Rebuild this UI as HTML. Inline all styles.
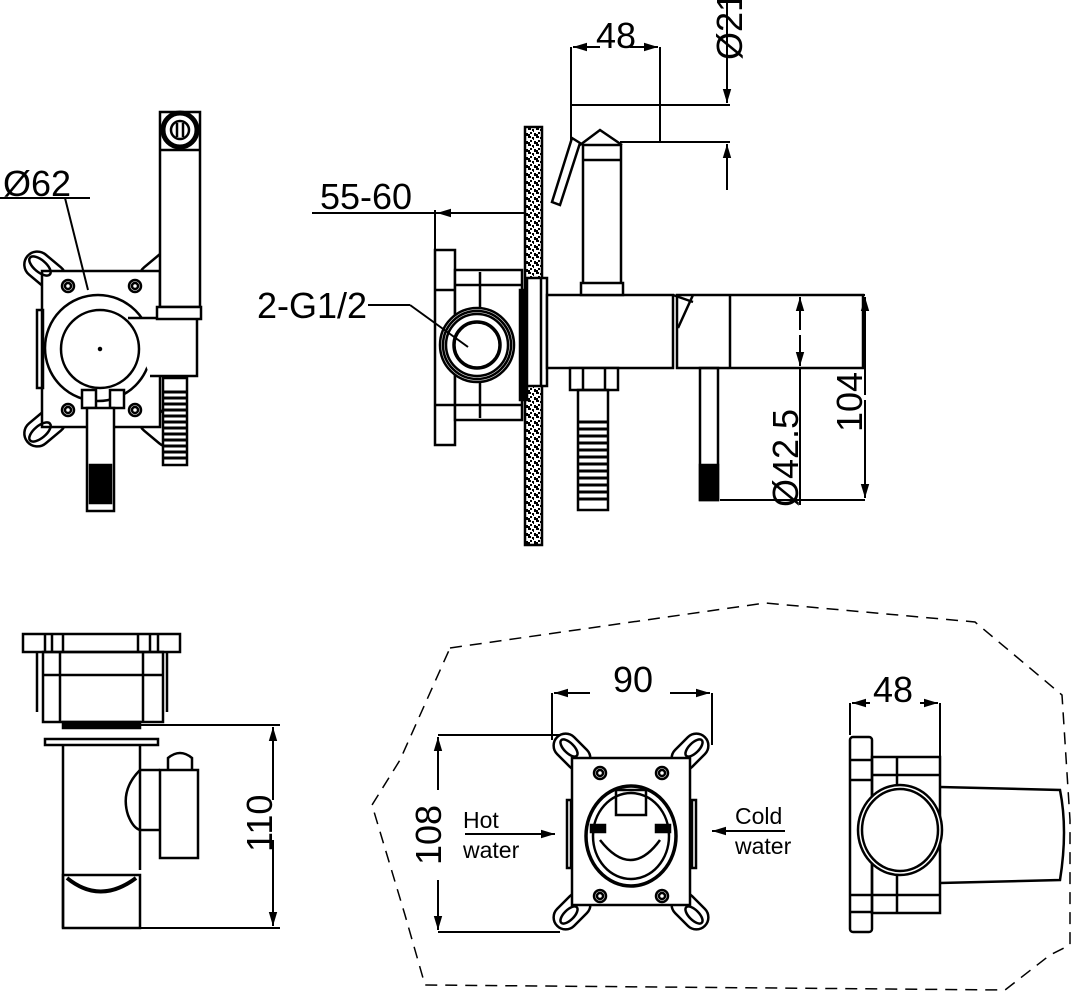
<!DOCTYPE html>
<html><head><meta charset="utf-8"><style>
html,body{margin:0;padding:0;background:#fff}
svg{display:block}
text{font-family:"Liberation Sans",sans-serif;fill:#000}
</style></head><body>
<svg width="1079" height="1000" viewBox="0 0 1079 1000" xmlns="http://www.w3.org/2000/svg">
<defs>
<pattern id="sp" width="8" height="8" patternUnits="userSpaceOnUse">
<rect width="8" height="8" fill="#fff"/>
<rect x="0" y="0" width="3" height="2" fill="#000"/><rect x="4" y="1" width="2" height="2" fill="#000"/>
<rect x="2" y="4" width="2" height="2" fill="#000"/><rect x="6" y="5" width="2" height="3" fill="#000"/>
<rect x="0" y="6" width="2" height="2" fill="#000"/><rect x="5" y="3" width="1" height="1" fill="#000"/>
</pattern>
<marker id="a" viewBox="0 0 10 10" refX="10" refY="5" markerWidth="7" markerHeight="7" orient="auto-start-reverse"><path d="M0,2 L10,5 L0,8 z" fill="#000"/></marker>
</defs>
<g fill="none" stroke="#000" stroke-width="2.5">
<!-- ===== Top-left front view ===== -->
<g fill="#fff">
<rect x="22" y="258" width="46" height="26" rx="13" transform="rotate(40 45 271)"/>
<rect x="22" y="414" width="46" height="26" rx="13" transform="rotate(-40 45 427)"/>
<rect x="137" y="258" width="46" height="26" rx="13" transform="rotate(-40 160 271)"/>
<rect x="137" y="414" width="46" height="26" rx="13" transform="rotate(40 160 427)"/>
<rect x="42" y="271" width="118" height="156"/>
</g>
<ellipse cx="40" cy="266" rx="13" ry="6" transform="rotate(40 40 266)"/>
<ellipse cx="40" cy="432" rx="13" ry="6" transform="rotate(-40 40 432)"/>
<rect x="37" y="310" width="6" height="78"/>
<circle cx="68" cy="286" r="6"/><circle cx="68" cy="286" r="3"/>
<circle cx="135" cy="286" r="6"/><circle cx="135" cy="286" r="3"/>
<circle cx="68" cy="410" r="6"/><circle cx="68" cy="410" r="3"/>
<circle cx="135" cy="410" r="6"/><circle cx="135" cy="410" r="3"/>
<circle cx="98" cy="348" r="53" fill="#fff"/>
<path d="M128,318 L197,318 L197,376 L150,376" fill="#fff"/>
<circle cx="100" cy="349" r="39" fill="#fff"/>
<circle cx="100" cy="349" r="1" fill="#000"/>
<rect x="160" y="112" width="40" height="195" fill="#fff"/>
<line x1="160" y1="150" x2="200" y2="150"/>
<rect x="157" y="307" width="44" height="12" fill="#fff"/>
<circle cx="180" cy="130" r="17" fill="#fff" stroke-width="5"/>
<circle cx="180" cy="130" r="9"/>
<line x1="177" y1="123" x2="177" y2="137"/><line x1="183" y1="123" x2="183" y2="137"/>
<rect x="163" y="378" width="24" height="87" fill="#fff"/>
<g stroke-width="3"><path d="M163,392 H187 M163,398 H187 M163,404 H187 M163,410 H187 M163,416 H187 M163,422 H187 M163,428 H187 M163,434 H187 M163,440 H187 M163,446 H187 M163,452 H187 M163,458 H187"/></g>
<rect x="82" y="390" width="14" height="18" fill="#fff"/><rect x="110" y="390" width="14" height="18" fill="#fff"/>
<rect x="87" y="408" width="27" height="103" fill="#fff"/>
<rect x="90" y="465" width="21" height="38" fill="#000"/>
<line x1="0" y1="198" x2="90" y2="198" stroke-width="2"/>
<line x1="65" y1="198" x2="88" y2="290" stroke-width="2"/>
</g>
<text x="3" y="196" font-size="36">Ø62</text>

<!-- ===== Top-middle side view ===== -->
<g fill="none" stroke="#000" stroke-width="2.5">
<rect x="525" y="127" width="17" height="418" fill="url(#sp)"/>
<line x1="312" y1="213" x2="525" y2="213" stroke-width="2"/>
<line x1="435" y1="210" x2="435" y2="250" stroke-width="2"/>
<line x1="445" y1="213" x2="437" y2="213" marker-end="url(#a)" stroke-width="2"/>
<rect x="435" y="250" width="20" height="195" fill="#fff"/>
<line x1="435" y1="290" x2="455" y2="290"/><line x1="435" y1="405" x2="455" y2="405"/>
<rect x="455" y="270" width="67" height="150" fill="#fff"/>
<line x1="455" y1="285" x2="522" y2="285"/><line x1="455" y1="405" x2="522" y2="405"/>
<line x1="480" y1="272" x2="480" y2="418"/>
<circle cx="477" cy="345" r="37" fill="#fff"/>
<circle cx="477" cy="345" r="34"/><circle cx="477" cy="345" r="31"/>
<circle cx="477" cy="345" r="23" stroke-width="3.5"/>
<line x1="368" y1="305" x2="410" y2="305" stroke-width="2"/>
<line x1="410" y1="305" x2="468" y2="347" stroke-width="2"/>
<rect x="520" y="290" width="7" height="110" fill="#000"/>
<rect x="527" y="278" width="20" height="108" fill="#fff"/>
<line x1="541" y1="278" x2="541" y2="386"/>
<rect x="547" y="295" width="126" height="73" fill="#fff"/>
<rect x="677" y="295" width="186" height="73" fill="#fff"/>
<path d="M673,295 L693,302 M693,295 L678,328"/>
<line x1="730" y1="295" x2="730" y2="368"/>
<rect x="583" y="145" width="38" height="140" fill="#fff"/>
<line x1="583" y1="160" x2="621" y2="160"/>
<rect x="581" y="283" width="42" height="12" fill="#fff"/>
<path d="M580,145 L600,130 L622,145"/>
<path d="M572,138 L580,143 L560,205 L552,202 Z" fill="#fff"/>
<rect x="570" y="368" width="48" height="22" fill="#fff"/>
<line x1="583" y1="368" x2="583" y2="390"/><line x1="605" y1="368" x2="605" y2="390"/>
<rect x="578" y="390" width="30" height="120"/>
<g stroke-width="3"><path d="M578,422 H608 M578,429 H608 M578,436 H608 M578,443 H608 M578,450 H608 M578,457 H608 M578,464 H608 M578,471 H608 M578,478 H608 M578,485 H608 M578,492 H608 M578,499 H608"/></g>
<rect x="700" y="368" width="18" height="132"/>
<rect x="700" y="465" width="18" height="35" fill="#000"/>
<g stroke-width="2">
<line x1="571" y1="47" x2="571" y2="140"/><line x1="660" y1="47" x2="660" y2="142"/>
<line x1="600" y1="47" x2="573" y2="47" marker-end="url(#a)"/><line x1="630" y1="47" x2="658" y2="47" marker-end="url(#a)"/>
<line x1="571" y1="105" x2="730" y2="105"/><line x1="620" y1="142" x2="730" y2="142"/>
<line x1="727" y1="0" x2="727" y2="103" marker-end="url(#a)"/>
<line x1="727" y1="190" x2="727" y2="144" marker-end="url(#a)"/>
<line x1="730" y1="295" x2="865" y2="295"/><line x1="730" y1="368" x2="805" y2="368"/>
<line x1="720" y1="500" x2="865" y2="500"/>
<line x1="800" y1="330" x2="800" y2="297" marker-end="url(#a)"/>
<line x1="800" y1="335" x2="800" y2="366" marker-end="url(#a)"/>
<line x1="800" y1="368" x2="800" y2="505"/>
<line x1="865" y1="395" x2="865" y2="297" marker-end="url(#a)"/>
<line x1="865" y1="400" x2="865" y2="498" marker-end="url(#a)"/>
</g>
</g>
<text x="596" y="48" font-size="36">48</text>
<text x="320" y="209" font-size="36">55-60</text>
<text x="257" y="318" font-size="36">2-G1/2</text>
<text transform="translate(742,60) rotate(-90)" font-size="36">Ø21</text>
<text transform="translate(798,507) rotate(-90)" font-size="36">Ø42.5</text>
<text transform="translate(862,432) rotate(-90)" font-size="36">104</text>

<!-- ===== Bottom-left view ===== -->
<g fill="none" stroke="#000" stroke-width="2.5">
<rect x="23" y="634" width="157" height="18"/>
<line x1="45" y1="634" x2="45" y2="652"/><line x1="52" y1="634" x2="52" y2="652"/>
<line x1="63" y1="634" x2="63" y2="652"/><line x1="138" y1="634" x2="138" y2="652"/>
<line x1="150" y1="634" x2="150" y2="652"/><line x1="158" y1="634" x2="158" y2="652"/>
<rect x="43" y="652" width="120" height="70"/>
<line x1="37" y1="652" x2="37" y2="712"/><line x1="167" y1="652" x2="167" y2="712"/>
<line x1="60" y1="652" x2="60" y2="722"/><line x1="143" y1="652" x2="143" y2="722"/>
<line x1="43" y1="675" x2="163" y2="675"/>
<rect x="63" y="722" width="77" height="6" fill="#000"/>
<rect x="45" y="739" width="113" height="6"/>
<line x1="63" y1="745" x2="63" y2="928"/><line x1="140" y1="745" x2="140" y2="870"/>
<path d="M140,770 L160,770 M140,830 L160,830 M140,770 Q120,790 128,815 Q133,828 140,830"/>
<rect x="160" y="770" width="38" height="88"/>
<path d="M168,770 L168,758 Q180,748 192,758 L192,770"/>
<rect x="63" y="875" width="77" height="53"/>
<path d="M67,878 Q100,905 136,878" stroke-width="4"/>
<line x1="140" y1="725" x2="280" y2="725" stroke-width="2"/>
<line x1="63" y1="928" x2="280" y2="928" stroke-width="2"/>
<line x1="273" y1="800" x2="273" y2="727" marker-end="url(#a)" stroke-width="2"/>
<line x1="273" y1="840" x2="273" y2="926" marker-end="url(#a)" stroke-width="2"/>
</g>
<text transform="translate(272,852) rotate(-90)" font-size="36">110</text>

<!-- ===== Dashed outline ===== -->
<path d="M450,648 L765,603 L975,622 L1062,695 L1070,820 L1070,945 L1050,955 L1005,990 L425,985 L405,915 L372,805 L400,760 Z" fill="none" stroke="#000" stroke-width="1.5" stroke-dasharray="12,8"/>

<!-- ===== Bottom-middle front ===== -->
<g fill="none" stroke="#000" stroke-width="2.5">
<g fill="#fff">
<rect x="551" y="740" width="42" height="24" rx="12" transform="rotate(45 572 752)"/>
<rect x="669" y="740" width="42" height="24" rx="12" transform="rotate(-45 690 752)"/>
<rect x="551" y="899" width="42" height="24" rx="12" transform="rotate(-45 572 911)"/>
<rect x="669" y="899" width="42" height="24" rx="12" transform="rotate(45 690 911)"/>
<rect x="572" y="758" width="118" height="147"/>
</g>
<ellipse cx="569" cy="748" rx="11" ry="5" transform="rotate(45 569 748)"/>
<ellipse cx="694" cy="748" rx="11" ry="5" transform="rotate(-45 694 748)"/>
<ellipse cx="569" cy="915" rx="11" ry="5" transform="rotate(-45 569 915)"/>
<ellipse cx="694" cy="915" rx="11" ry="5" transform="rotate(45 694 915)"/>
<rect x="567" y="800" width="4" height="68"/>
<rect x="692" y="800" width="4" height="68"/>
<circle cx="600" cy="773" r="6"/><circle cx="600" cy="773" r="3"/>
<circle cx="662" cy="773" r="6"/><circle cx="662" cy="773" r="3"/>
<circle cx="600" cy="896" r="6"/><circle cx="600" cy="896" r="3"/>
<circle cx="662" cy="896" r="6"/><circle cx="662" cy="896" r="3"/>
<ellipse cx="631" cy="836" rx="45" ry="50" stroke-width="3.5"/>
<ellipse cx="631" cy="836" rx="38" ry="43"/>
<rect x="616" y="790" width="30" height="25"/>
<path d="M600,840 Q631,880 660,840"/>
<rect x="591" y="825" width="14" height="7" fill="#000"/><rect x="656" y="825" width="14" height="7" fill="#000"/>
<g stroke-width="2">
<line x1="552" y1="693" x2="552" y2="740"/><line x1="712" y1="693" x2="712" y2="745"/>
<line x1="590" y1="693" x2="554" y2="693" marker-end="url(#a)"/>
<line x1="670" y1="693" x2="710" y2="693" marker-end="url(#a)"/>
<line x1="438" y1="735" x2="560" y2="735"/><line x1="438" y1="932" x2="560" y2="932"/>
<line x1="438" y1="790" x2="438" y2="737" marker-end="url(#a)"/>
<line x1="438" y1="880" x2="438" y2="930" marker-end="url(#a)"/>
<line x1="465" y1="834" x2="555" y2="834" marker-end="url(#a)"/>
<line x1="785" y1="831" x2="712" y2="831" marker-end="url(#a)"/>
<line x1="850" y1="703" x2="850" y2="735"/><line x1="940" y1="703" x2="940" y2="757"/>
<line x1="870" y1="703" x2="852" y2="703" marker-end="url(#a)"/>
<line x1="920" y1="703" x2="938" y2="703" marker-end="url(#a)"/>
</g>
<!-- right side view -->
<rect x="850" y="737" width="22" height="195" rx="3"/>
<line x1="850" y1="760" x2="872" y2="760"/><line x1="850" y1="780" x2="872" y2="780"/>
<line x1="850" y1="895" x2="872" y2="895"/><line x1="850" y1="912" x2="872" y2="912"/>
<rect x="872" y="757" width="68" height="156"/>
<line x1="872" y1="775" x2="940" y2="775"/><line x1="872" y1="895" x2="940" y2="895"/>
<line x1="897" y1="757" x2="897" y2="913"/>
<ellipse cx="900" cy="830" rx="42" ry="45" fill="#fff"/>
<ellipse cx="900" cy="830" rx="38" ry="41"/>
<path d="M940,787 L1060,790 Q1068,830 1060,880 L940,883"/>
</g>
<text x="613" y="692" font-size="36">90</text>
<text x="873" y="702" font-size="36">48</text>
<text transform="translate(441,865) rotate(-90)" font-size="36">108</text>
<text x="463" y="828" font-size="23">Hot</text>
<text x="463" y="858" font-size="23">water</text>
<text x="735" y="824" font-size="23">Cold</text>
<text x="735" y="854" font-size="23">water</text>
</svg>
</body></html>
